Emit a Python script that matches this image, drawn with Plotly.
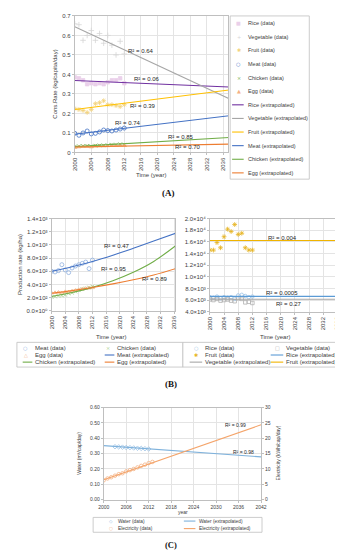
import plotly.graph_objects as go

W, H = 343, 550
FONT = "Liberation Sans, Arial, DejaVu Sans"
def PX(x): return x / W
def PY(y): return 1 - y / H

# ---------------- Panel A : consumption rate ----------------
years_a = list(range(2000, 2013))
rice_a = [0.385, 0.38, 0.37, 0.35, 0.355, 0.35, 0.355, 0.35, 0.36, 0.37, 0.37, 0.38, 0.355]
veg_a = [0.66, 0.655, 0.575, 0.60, 0.625, 0.575, 0.61, 0.56, 0.60, 0.55, 0.50, 0.57, 0.505]
fruit_a = [0.225, 0.22, 0.215, 0.205, 0.22, 0.25, 0.255, 0.265, 0.245, 0.245, 0.24, 0.235, 0.245]
meat_a = [0.098, 0.088, 0.10, 0.11, 0.095, 0.098, 0.105, 0.115, 0.112, 0.11, 0.115, 0.12, 0.125]
chicken_a = [0.030, 0.032, 0.033, 0.034, 0.032, 0.035, 0.036, 0.036, 0.037, 0.040, 0.040, 0.042, 0.040]
egg_a = [0.025, 0.028, 0.030, 0.030, 0.028, 0.032, 0.033, 0.033, 0.034, 0.035, 0.035, 0.036, 0.036]
trend_years_a = [2000, 2038]
rice_a_ext = [0.369, 0.335]
veg_a_ext = [0.645, 0.270]
fruit_a_ext = [0.220, 0.322]
meat_a_ext = [0.093, 0.190]
chicken_a_ext = [0.030, 0.077]
egg_a_ext = [0.028, 0.043]
r2_a = ["R² = 0.64", "R² = 0.06", "R² = 0.39", "R² = 0.74", "R² = 0.85", "R² = 0.70"]
r2_a_pos = [(2016.0, 0.52), (2017.5, 0.376), (2016.5, 0.240), (2013.0, 0.150), (2025.7, 0.080), (2027.5, 0.026)]
ticks_a_x = list(range(2000, 2037, 4))

# ---------------- Panel B : production rate ----------------
years_b = list(range(2000, 2013))
meat_b = [600, 590, 610, 700, 620, 580, 650, 680, 700, 720, 740, 640, 770]
chicken_b = [210, 215, 225, 230, 240, 260, 270, 290, 310, 330, 340, 355, 370]
egg_b = [270, 275, 280, 270, 290, 285, 300, 310, 320, 330, 340, 345, 350]
trend_years_b = [2000, 2006, 2012, 2018, 2024, 2030, 2037]
meat_b_ext = [600, 670, 750, 845, 950, 1060, 1190]
chicken_b_ext = [215, 276, 355, 456, 585, 750, 1010]
egg_b_ext = [265, 306, 353, 408, 471, 544, 650]
r2_bl = ["R² = 0.47", "R² = 0.95", "R² = 0.89"]
r2_bl_pos = [(2019.3, 990), (2018.2, 630), (2030.5, 480)]

rice_b = [6500, 6400, 6600, 6300, 6500, 6400, 6500, 6200, 6800, 6900, 6700, 6500, 6600]
veg_b = [6100, 6000, 6200, 5900, 6000, 6100, 5900, 5800, 6300, 6200, 5600, 5700, 5500]
fruit_b = [14600, 14600, 15900, 15000, 16900, 18200, 17800, 19000, 17300, 17500, 15000, 14600, 14600]
flat_years_b = [2000, 2038]
rice_b_ext = [6640, 6640]
veg_b_ext = [6140, 6140]
fruit_b_ext = [16250, 16250]
r2_br = ["R² = 0.004", "R² = 0.0005", "R² = 0.27"]
r2_br_pos = [(2020.5, 16750), (2020.5, 7200), (2022.3, 5400)]

ticks_bl_vals = [0, 200, 400, 600, 800, 1000, 1200, 1400]
ticks_bl_text = ["0.0×10⁰", "2.0×10²", "4.0×10²", "6.0×10²", "8.0×10²", "1.0×10³", "1.2×10³", "1.4×10³"]
ticks_br_vals = [4000, 6000, 8000, 10000, 12000, 14000, 16000, 18000, 20000]
ticks_br_text = ["4.0×10³", "6.0×10³", "8.0×10³", "1.0×10⁴", "1.2×10⁴", "1.4×10⁴", "1.6×10⁴", "1.8×10⁴", "2.0×10⁴"]

# ---------------- Panel C : water & electricity ----------------
years_water = list(range(2003, 2013))
water = [0.345, 0.344, 0.342, 0.340, 0.339, 0.337, 0.335, 0.334, 0.332, 0.330]
years_elec = list(range(2000, 2014))
elec = [6.3, 6.9, 7.3, 7.8, 8.3, 8.6, 9.2, 9.6, 10.0, 10.5, 11.0, 11.4, 11.9, 12.3]
trend_years_c = [2000, 2042]
water_ext = [0.352, 0.279]
elec_ext = [6.45, 24.4]
r2_c = ["R² = 0.99", "R² = 0.98"]

fig = go.Figure()

def pts(x, y, name, sym, color, size, xa, ya, grp):
    fig.add_trace(go.Scatter(x=x, y=y, name=name, mode="markers", xaxis=xa, yaxis=ya,
                             legendgroup=grp,
                             marker=dict(symbol=sym, color=color, size=size,
                                         line=dict(color=color, width=0.8))))

def line(x, y, name, color, xa, ya, grp, shape="linear", width=1.1):
    fig.add_trace(go.Scatter(x=x, y=y, name=name, mode="lines", xaxis=xa, yaxis=ya,
                             legendgroup=grp, line=dict(color=color, width=width, shape=shape)))

# Panel A
pts(years_a, rice_a, "Rice (data)", "square", "#ead0ea", 3.5, "x", "y", "A")
pts(years_a, veg_a, "Vegetable (data)", "cross-thin", "#d6d6d6", 4, "x", "y", "A")
pts(years_a, fruit_a, "Fruit (data)", "asterisk-open", "#f2d27a", 4, "x", "y", "A")
pts(years_a, meat_a, "Meat (data)", "circle-open", "#4472c4", 4, "x", "y", "A")
pts(years_a, chicken_a, "Chicken (data)", "x-thin", "#70ad47", 3.5, "x", "y", "A")
pts(years_a, egg_a, "Egg (data)", "triangle-up", "#f4b183", 3.5, "x", "y", "A")
line(trend_years_a, rice_a_ext, "Rice (extrapolated)", "#7030a0", "x", "y", "A")
line(trend_years_a, veg_a_ext, "Vegetable (extrapolated)", "#a6a6a6", "x", "y", "A")
line(trend_years_a, fruit_a_ext, "Fruit (extrapolated)", "#ffc000", "x", "y", "A")
line(trend_years_a, meat_a_ext, "Meat (extrapolated)", "#4472c4", "x", "y", "A")
line(trend_years_a, chicken_a_ext, "Chicken (extrapolated)", "#70ad47", "x", "y", "A")
line(trend_years_a, egg_a_ext, "Egg (extrapolated)", "#ed7d31", "x", "y", "A")

# Panel B left
pts(years_b, meat_b, "Meat (data)", "circle-open", "#8fb0e0", 4, "x2", "y2", "BL")
pts(years_b, chicken_b, "Chicken (data)", "x-thin", "#a9d18e", 3.5, "x2", "y2", "BL")
pts(years_b, egg_b, "Egg (data)", "triangle-up-open", "#f4b183", 3.5, "x2", "y2", "BL")
line(trend_years_b, meat_b_ext, "Meat (extrapolated)", "#4472c4", "x2", "y2", "BL", "spline")
line(trend_years_b, chicken_b_ext, "Chicken (extrapolated)", "#70ad47", "x2", "y2", "BL", "spline")
line(trend_years_b, egg_b_ext, "Egg (extrapolated)", "#ed7d31", "x2", "y2", "BL", "spline")

# Panel B right
pts(years_b, rice_b, "Rice (data)", "circle-open", "#9dc3e6", 3.5, "x3", "y3", "BR")
pts(years_b, veg_b, "Vegetable (data)", "square-open", "#b0b0b0", 3.5, "x3", "y3", "BR")
pts(years_b, fruit_b, "Fruit (data)", "asterisk-open", "#e6b422", 4, "x3", "y3", "BR")
line(flat_years_b, rice_b_ext, "Rice (extrapolated)", "#5b9bd5", "x3", "y3", "BR")
line(flat_years_b, veg_b_ext, "Vegetable (extrapolated)", "#a6a6a6", "x3", "y3", "BR")
line(flat_years_b, fruit_b_ext, "Fruit (extrapolated)", "#f0b400", "x3", "y3", "BR")

# Panel C
pts(years_water, water, "Water (data)", "diamond-open", "#9dc3e6", 3.5, "x4", "y4", "C")
line(trend_years_c, water_ext, "Water (extrapolated)", "#7fb2dc", "x4", "y4", "C")
pts(years_elec, elec, "Electricity (data)", "circle-open", "#f4b183", 3.5, "x4", "y5", "C")
line(trend_years_c, elec_ext, "Electricity (extrapolated)", "#f4a46a", "x4", "y5", "C")

# ---------------- axes ----------------
def ax(**kw):
    d = dict(showgrid=True, gridcolor="#e4e4e4", gridwidth=0.6, showline=True,
             linecolor="#bfbfbf", linewidth=0.8, mirror=True, zeroline=False,
             tickfont=dict(family=FONT, size=6, color="#404040"),
             ticks="outside", ticklen=2, tickcolor="#bfbfbf")
    d.update(kw)
    return d

fig.update_layout(
    width=W, height=H, autosize=False, showlegend=False,
    margin=dict(l=0, r=0, t=0, b=0),
    paper_bgcolor="white", plot_bgcolor="white",
    font=dict(family=FONT, size=6, color="#404040"),
    xaxis=ax(domain=[PX(63), PX(222)], range=[2000, 2037.2], tickvals=ticks_a_x,
             tickangle=-90, anchor="y"),
    yaxis=ax(domain=[PY(143), PY(5)], range=[0, 0.7], dtick=0.1, anchor="x"),
    xaxis2=ax(domain=[PX(39), PX(167)], range=[2000, 2036.3], dtick=4, tick0=2000,
              tickangle=-90, anchor="y2"),
    yaxis2=ax(domain=[PY(303), PY(210)], range=[0, 1400], tickvals=ticks_bl_vals,
              ticktext=ticks_bl_text, anchor="x2"),
    xaxis3=ax(domain=[PX(203), PX(338)], range=[2000, 2036.8], dtick=4, tick0=2000,
              tickangle=-90, anchor="y3"),
    yaxis3=ax(domain=[PY(304), PY(210)], range=[4000, 20000], tickvals=ticks_br_vals,
              ticktext=ticks_br_text, anchor="x3"),
    xaxis4=ax(domain=[PX(93), PX(256)], range=[2000, 2042], dtick=6, tick0=2000,
              tickangle=0, anchor="y4", tickfont=dict(family=FONT, size=5, color="#404040")),
    yaxis4=ax(domain=[PY(494), PY(401)], range=[0, 0.6], dtick=0.1, tickformat=".2f",
              anchor="x4", mirror=False, tickfont=dict(family=FONT, size=5, color="#404040")),
    yaxis5=ax(overlaying="y4", side="right", range=[0, 30], dtick=5, anchor="x4",
              showgrid=False, mirror=False, tickfont=dict(family=FONT, size=5, color="#404040")),
)

ann = []
def txt(x, y, s, size=6, color="#404040", angle=0, xanchor="center", family=FONT, xref="paper", yref="paper"):
    ann.append(dict(x=x, y=y, text=s, showarrow=False, xref=xref, yref=yref, textangle=angle,
                    xanchor=xanchor, yanchor="middle", font=dict(family=family, size=size, color=color)))

# R² labels
for s, (xv, yv) in zip(r2_a, r2_a_pos):
    txt(xv, yv, s, 6, "#262626", xref="x", yref="y")
for s, (xv, yv) in zip(r2_bl, r2_bl_pos):
    txt(xv, yv, s, 6, "#262626", xref="x2", yref="y2")
for s, (xv, yv) in zip(r2_br, r2_br_pos):
    txt(xv, yv, s, 6, "#262626", xref="x3", yref="y3")
txt(2035.3, 24.3, r2_c[0], 5, "#262626", xref="x4", yref="y5")
txt(2037.4, 0.31, r2_c[1], 5, "#262626", xref="x4", yref="y4")

# axis titles
txt(PX(43), PY(74), "Cons.Rate (kg/capita/day)", 6, angle=-90)
txt(PX(142), PY(166), "Time (year)", 6)
txt(PX(6), PY(256), "Production rate (kg/ha)", 6, angle=-90)
txt(PX(101), PY(330), "Time (year)", 6)
txt(PX(270), PY(330), "Time (year)", 6)
txt(PX(68), PY(447), "Water (m³/cap/day)", 5, angle=-90)
txt(PX(274), PY(447), "Electricity (kWh/cap/day)", 5, angle=-90)
txt(PX(175), PY(507), "year", 5)

# panel labels
SERIF = "Liberation Serif, DejaVu Serif"
txt(PX(160), PY(184), "<b>(A)</b>", 9, "#111111", family=SERIF)
txt(PX(163), PY(377), "<b>(B)</b>", 9, "#111111", family=SERIF)
txt(PX(163), PY(540), "<b>(C)</b>", 8.5, "#111111", family=SERIF)

# ---------------- legends (drawn from the traces) ----------------
GLYPH = {"square": "■", "square-open": "□", "circle-open": "○", "x-thin": "×",
         "cross-thin": "+", "triangle-up": "▲", "triangle-up-open": "△",
         "asterisk-open": "✱", "diamond-open": "◇"}
shapes = []

def legend(grp, box, ncols, col_x, row_y, fsize, sym_dx, line_dx, text_dx, gsize):
    x0, y0, x1, y1 = box
    shapes.append(dict(type="rect", xref="paper", yref="paper", x0=PX(x0), x1=PX(x1),
                       y0=PY(y1), y1=PY(y0), line=dict(color="#bfbfbf", width=0.8),
                       fillcolor="white", layer="above"))
    items = [t for t in fig.data if t.legendgroup == grp]
    for i, t in enumerate(items):
        cx = col_x[i % ncols]
        cy = row_y[i // ncols]
        if t.mode == "markers":
            txt(PX(cx + sym_dx), PY(cy), GLYPH.get(t.marker.symbol, "•"), gsize, t.marker.color,
                family="DejaVu Sans")
        else:
            shapes.append(dict(type="line", xref="paper", yref="paper",
                               x0=PX(cx + line_dx[0]), x1=PX(cx + line_dx[1]),
                               y0=PY(cy), y1=PY(cy), layer="above",
                               line=dict(color=t.line.color, width=1.1)))
        txt(PX(cx + text_dx), PY(cy), t.name, fsize, "#404040", xanchor="left")

legend("A", (224, 5, 306, 170), 1, [224], [12.3 + 13.76 * k for k in range(12)],
       5.5, 9, (2, 14), 16, 5)
legend("BL", (3, 335, 175, 360), 2, [3, 88], [340.7, 347.8, 355.0],
       6, 9, (6, 16), 17, 5)
legend("BR", (175, 335, 338, 360), 2, [175, 259], [340.7, 347.8, 355.0],
       6, 14, (7, 20), 21, 5)
legend("C", (82, 512, 257, 527), 2, [82, 166], [515.7, 523.3],
       4.8, 18, (10, 22), 24, 4.5)

fig.update_layout(annotations=ann, shapes=shapes)
fig.write_html("out.html")
